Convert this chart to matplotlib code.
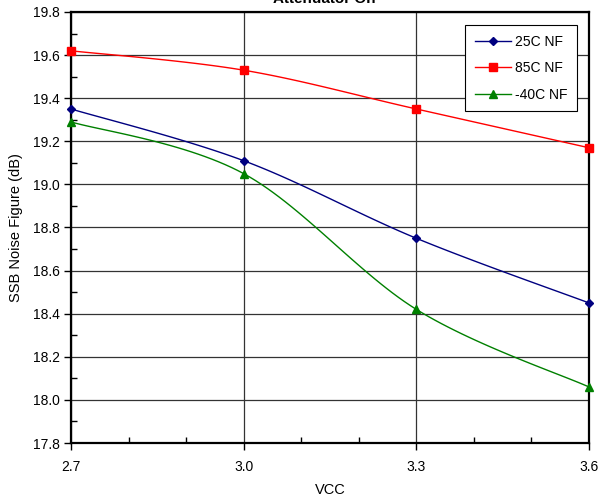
import numpy as np
import matplotlib.pyplot as plt
from matplotlib.ticker import MultipleLocator

plt.rcParams['font.family'] = ['Liberation Sans', 'DejaVu Sans']

vcc = [2.7, 3.0, 3.3, 3.6]
nf_25 = [19.35, 19.11, 18.75, 18.45]
nf_85 = [19.62, 19.53, 19.35, 19.17]
nf_m40 = [19.29, 19.05, 18.42, 18.06]


def smooth(x, y, n=30):
    # Excel-style smoothed line (cubic Bezier, Catmull-Rom tangents)
    p = np.column_stack([x, y]).astype(float)
    p = np.vstack([p[0], p, p[-1]])
    out = []
    for i in range(1, len(p) - 2):
        p0, p3 = p[i], p[i + 1]
        c1 = p0 + (p[i + 1] - p[i - 1]) / 6
        c2 = p3 - (p[i + 2] - p[i]) / 6
        t = np.linspace(0, 1, n)[:, None]
        seg = ((1 - t) ** 3) * p0 + 3 * ((1 - t) ** 2) * t * c1 + 3 * (1 - t) * t ** 2 * c2 + t ** 3 * p3
        out.append(seg)
    s = np.vstack(out)
    return s[:, 0], s[:, 1]


fig = plt.figure(figsize=(6.01, 4.98), dpi=100)
ax = fig.add_axes([71 / 601, 1 - 443 / 498, 518 / 601, 431 / 498])

series = [(nf_25, '#000080', 'D', 4.5, '25C NF'),
          (nf_85, '#ff0000', 's', 5.5, '85C NF'),
          (nf_m40, '#008000', '^', 5.5, '-40C NF')]
for ys, c, m, ms, lab in series:
    sx, sy = smooth(vcc, ys)
    ax.plot(sx, sy, color=c, lw=1, zorder=3)
    ax.plot(vcc, ys, ls='none', marker=m, ms=ms, color=c, zorder=4, clip_on=False)
    ax.plot([], [], color=c, lw=1, marker=m, ms=ms, label=lab)

ax.set_xlim(2.7, 3.6)
ax.set_ylim(17.8, 19.8)
ax.set_xticks(vcc)
ax.set_xticklabels(['2.7', '3.0', '3.3', '3.6'])
ax.xaxis.set_minor_locator(MultipleLocator(0.1))
ax.yaxis.set_major_locator(MultipleLocator(0.2))
ax.yaxis.set_minor_locator(MultipleLocator(0.1))
ax.yaxis.set_major_formatter(plt.FormatStrFormatter('%.1f'))
ax.tick_params(which='major', direction='out', length=5, width=1, colors='black')
ax.tick_params(axis='x', which='major', labelsize=10, pad=7)
ax.tick_params(axis='y', which='major', labelsize=10, pad=3)
ax.tick_params(which='minor', direction='in', length=4, width=1)
ax.grid(which='major', color='#333333', lw=0.9)
for s in ax.spines.values():
    s.set_linewidth(1.6)
ax.set_xlabel('VCC', fontsize=10.5, labelpad=7)
ax.set_ylabel('SSB Noise Figure (dB)', fontsize=10.5, labelpad=7)

leg = ax.legend(loc='upper right', bbox_to_anchor=(0.977, 0.97), borderaxespad=0,
                fontsize=10, frameon=True, fancybox=False, edgecolor='black',
                framealpha=1, labelspacing=0.9, handlelength=2.6,
                handletextpad=0.3, borderpad=0.7)
leg.get_frame().set_linewidth(0.8)

fig.text(324 / 601, 1 - 3 / 498, 'Attenuator On', ha='center', va='baseline',
         fontsize=11, fontweight='bold')

fig.savefig('out.png', dpi=100)
